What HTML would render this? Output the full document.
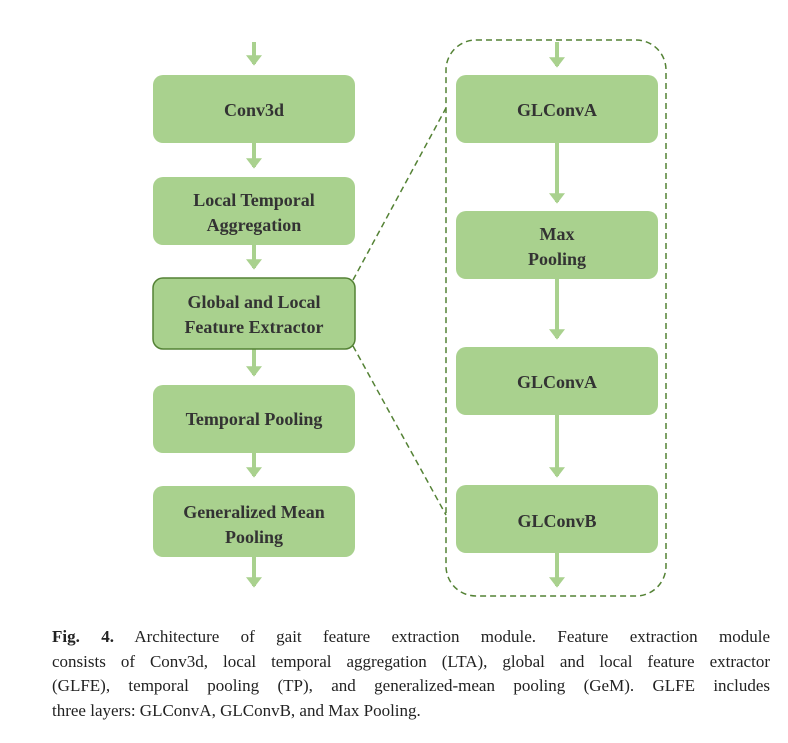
<!DOCTYPE html>
<html><head><meta charset="utf-8"><style>
body{margin:0;background:#fff;width:788px;height:743px;overflow:hidden;position:relative}
.cap{position:absolute;left:52px;top:625px;width:718px;font-family:"Liberation Serif",serif;font-size:17px;line-height:24.5px;color:#222}
.cap div{text-align:justify;text-align-last:justify;white-space:nowrap}
.cap div.l{text-align-last:left}
</style></head><body>
<svg width="788" height="620" style="position:absolute;left:0;top:0" font-family="Liberation Serif,serif" font-weight="bold" font-size="18" fill="#333">
<defs><marker id="a" markerWidth="4" markerHeight="4" refX="2.2" refY="2" orient="auto" markerUnits="strokeWidth"><path d="M0,0L2.6,2L0,4z" fill="#a9d18e"/></marker></defs>
<g stroke="#a9d18e" stroke-width="4" marker-end="url(#a)">
<line x1="254" y1="42" x2="254" y2="64"/><line x1="254" y1="143" x2="254" y2="167"/>
<line x1="254" y1="245" x2="254" y2="268"/><line x1="254" y1="349" x2="254" y2="375"/>
<line x1="254" y1="453" x2="254" y2="476"/><line x1="254" y1="557" x2="254" y2="586"/>
<line x1="557" y1="42" x2="557" y2="66"/><line x1="557" y1="143" x2="557" y2="202"/>
<line x1="557" y1="279" x2="557" y2="338"/><line x1="557" y1="415" x2="557" y2="476"/>
<line x1="557" y1="553" x2="557" y2="586"/>
</g>
<g fill="#a9d18e">
<rect x="153" y="75" width="202" height="68" rx="10"/>
<rect x="153" y="177" width="202" height="68" rx="10"/>
<rect x="153" y="278" width="202" height="71" rx="10" stroke="#548235" stroke-width="1.5"/>
<rect x="153" y="385" width="202" height="68" rx="10"/>
<rect x="153" y="486" width="202" height="71" rx="10"/>
<rect x="456" y="75" width="202" height="68" rx="10"/>
<rect x="456" y="211" width="202" height="68" rx="10"/>
<rect x="456" y="347" width="202" height="68" rx="10"/>
<rect x="456" y="485" width="202" height="68" rx="10"/>
</g>
<g fill="none" stroke="#548235" stroke-width="1.5" stroke-dasharray="6,4">
<rect x="446" y="40" width="220" height="556" rx="30"/>
<line x1="353" y1="280" x2="446" y2="108"/>
<line x1="353" y1="346" x2="446" y2="515"/>
</g>
<g text-anchor="middle">
<text x="254" y="116">Conv3d</text>
<text x="254" y="206">Local Temporal</text><text x="254" y="231">Aggregation</text>
<text x="254" y="308">Global and Local</text><text x="254" y="333">Feature Extractor</text>
<text x="254" y="425">Temporal Pooling</text>
<text x="254" y="518">Generalized Mean</text><text x="254" y="543">Pooling</text>
<text x="557" y="116">GLConvA</text>
<text x="557" y="240">Max</text><text x="557" y="265">Pooling</text>
<text x="557" y="388">GLConvA</text>
<text x="557" y="527">GLConvB</text>
</g>
</svg>
<div class="cap">
<div><b>Fig. 4.</b> Architecture of gait feature extraction module. Feature extraction module</div>
<div>consists of Conv3d, local temporal aggregation (LTA), global and local feature extractor</div>
<div>(GLFE), temporal pooling (TP), and generalized-mean pooling (GeM). GLFE includes</div>
<div class="l">three layers: GLConvA, GLConvB, and Max Pooling.</div>
</div>
</body></html>
